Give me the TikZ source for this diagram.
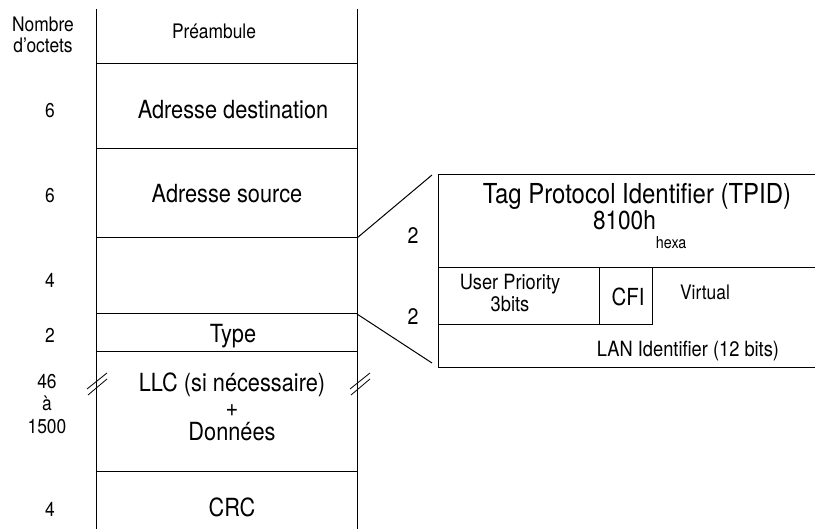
\documentclass[tikz,border=0pt]{standalone}
\usepackage{fontspec}
\setmainfont{TeX Gyre Heros}[FakeStretch=0.87]

\begin{document}
\begin{tikzpicture}[x=1pt, y=-1pt]
%define
\tikzstyle{txt} = [inner sep=0pt, outer sep=0pt, text centered, align=center]
\tikzstyle{txt_s} = [txt, font=\fontsize{20}{21.5}\selectfont]
\tikzstyle{txt_m} = [txt, font=\fontsize{21}{22}\selectfont]
\tikzstyle{txt_l} = [txt, font=\fontsize{25}{24.5}\selectfont]
\tikzstyle{num} = [txt, font=\fontsize{20}{22.5}\selectfont]
\tikzstyle{num_r} = [txt, font=\fontsize{22.5}{24}\selectfont]
\tikzstyle{frame} = [line width=1pt]
\tikzstyle{cut} = [line width=0.8pt]

\useasboundingbox (0,0) rectangle (815,529);

%points
\coordinate (col_TL) at (96,9);
\coordinate (col_TR) at (357,9);
\coordinate (col_BL) at (96,529);
\coordinate (col_BR) at (357,529);
\coordinate (src_SE) at (357,238);
\coordinate (type_NE) at (357,314);
\coordinate (tag_NW) at (432,175);
\coordinate (tag_SW) at (432,363);

%column
\draw[frame](col_TL)--(col_BL);
\draw[frame](col_TR)--(col_BR);
\foreach \y in {64,149,238,314,352,472}
  \draw[frame](96,\y)--(357,\y);

%break marks
\foreach \x in {96,359}{
  \draw[cut](\x-9,389)--(\x+11,373);
  \draw[cut](\x-8,395)--(\x+11,379);
}

%tag box
\draw[frame](815,175)--(438,175)--(438,368)--(815,368);
\draw[frame](438,268)--(815,268);
\draw[frame](438,325)--(652,325)--(652,268);
\draw[frame](599,268)--(599,325);

%zoom lines
\draw[frame](src_SE)--(tag_NW);
\draw[frame](type_NE)--(tag_SW);

%column texts
\node[txt_s](lbl_Nb) at (43,35){Nombre\\d'octets};
\node[txt_s, anchor=base](lbl_Pre) at (214,39){Préambule};
\node[txt_l, anchor=base](lbl_Dest) at (233,119){Adresse destination};
\node[txt_l, anchor=base](lbl_Src) at (227,203){Adresse source};
\node[txt_l, anchor=base](lbl_Type) at (233,343){Type};
\node[txt_l](lbl_Data) at (232,407){LLC (si nécessaire)\\+\\Données};
\node[txt_l, anchor=base](lbl_CRC) at (232,517){CRC};

%byte counts
\node[num, anchor=base](num_Dest) at (50,118){6};
\node[num, anchor=base](num_Src) at (50,203){6};
\node[num, anchor=base](num_Tag) at (50,288){4};
\node[num, anchor=base](num_Type) at (50,343){2};
\node[num](num_Data) at (47,404){46\\à\\1500};
\node[num, anchor=base](num_CRC) at (50,517){4};

%tag texts
\node[num_r, anchor=base](num_TPID) at (413,244){2};
\node[num_r, anchor=base](num_TCI) at (413,325){2};
\node[txt, font=\fontsize{27.5}{28}\selectfont, anchor=base](lbl_TPID) at (637,203.5){Tag Protocol Identifier (TPID)};
\node[txt, font=\fontsize{26}{28}\selectfont, anchor=base west](lbl_Hex) at (593,229.5){8100h\raisebox{-19pt}{\fontsize{16.5}{18}\selectfont hexa}};
\node[txt_m](lbl_Prio) at (510,293){User Priority\\3bits};
\node[txt, font=\fontsize{23.5}{24}\selectfont, anchor=base](lbl_CFI) at (628,306){CFI};
\node[txt_s, anchor=base](lbl_Virt) at (705,300){Virtual};
\node[txt_m, anchor=base](lbl_LAN) at (688,357){LAN Identifier (12 bits)};

\end{tikzpicture}
\end{document}
